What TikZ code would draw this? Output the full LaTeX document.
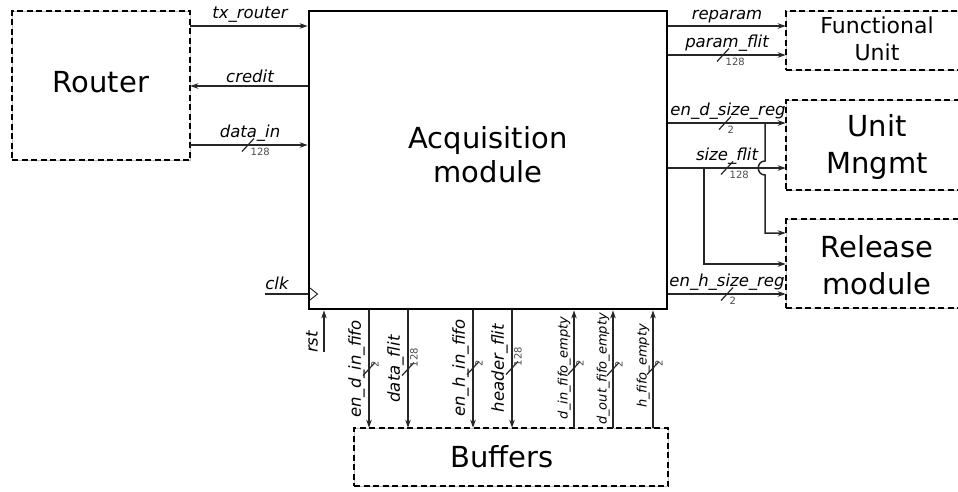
\documentclass[tikz,border=0pt]{standalone}
\usepackage{fontspec}
\setmainfont{DejaVu Sans}
\usetikzlibrary{arrows.meta}
\newcommand{\myfs}[2]{\fontsize{#1}{#2}\selectfont}
\newcommand{\hbus}[4]{%
  \draw[slash] (#1-6,#2+6.5) -- (#1+6,#2-6.5);
  \node[num, anchor=north west] (#4) at (#1+2,#2+2) {#3};}
\newcommand{\vbus}[4]{%
  \draw[slash] (#1-6,#2+6.5) -- (#1+6,#2-6.5);
  \node[num, rotate=90, anchor=north west] (#4) at (#1+1.5,#2-1) {#3};}
\begin{document}
\begin{tikzpicture}[x=1pt,y=-1pt,
  dbox/.style={draw=gray!50, line width=0.6pt, inner sep=0pt,
    postaction={draw=black, line width=2.6pt, dash pattern=on 6pt off 3.5pt}},
  modbox/.style={draw=black, line width=2.8pt, inner sep=0pt},
  sig/.style={draw=black!85, line width=1.5pt, -{Stealth[length=8pt,width=5.5pt]}},
  wire/.style={draw=black!85, line width=1.5pt},
  slash/.style={draw=black!85, line width=1.2pt},
  lab/.style={font=\myfs{16.5}{19}\itshape, inner sep=1pt},
  slab/.style={font=\myfs{13}{15}\itshape, inner sep=1pt},
  num/.style={font=\myfs{10}{11}, text=black!70, inner sep=0.5pt},
  big/.style={font=\myfs{29}{37}, align=center, inner sep=0pt}]
\useasboundingbox (0,0) rectangle (958,491);
\clip (0,0) rectangle (958,491);

% boxes
\node[dbox, minimum width=178pt, minimum height=149pt] (router) at (101,85.5) {};
\node[big] (routertxt) at (101,82.5) {Router};
\node[modbox, minimum width=358pt, minimum height=298pt] (acq) at (488,160) {};
\node[big, font=\myfs{29}{34}] (acqtxt) at (488,155) {Acquisition\\module};
\node[dbox, minimum width=189pt, minimum height=59pt] (fu) at (880.5,40.5) {};
\node[big, font=\myfs{22}{27}] (futxt) at (877,38.5) {Functional\\Unit};
\node[dbox, minimum width=189pt, minimum height=90pt] (um) at (880.5,145) {};
\node[big] (umtxt) at (877,146.5) {Unit\\Mngmt};
\node[dbox, minimum width=189pt, minimum height=89pt] (rm) at (880.5,263.5) {};
\node[big] (rmtxt) at (877,265.5) {Release\\module};
\node[dbox, minimum width=314pt, minimum height=58pt] (buf) at (511,457) {};
\node[big] (buftxt) at (502,457) {Buffers};

% router <-> acquisition
\draw[sig] (router.east |- 0,26) -- (acq.west |- 0,26);
\node[lab, anchor=south] (ltx) at (250,24) {tx\_router};
\draw[sig] (acq.west |- 0,86) -- (router.east |- 0,86);
\node[lab, anchor=south] (lcr) at (250,84) {credit};
\draw[sig] (router.east |- 0,145) -- (acq.west |- 0,145);
\node[lab, anchor=south] (ldi) at (250,143) {data\_in};
\hbus{248}{145}{128}{ndi}

% right side
\draw[sig] (acq.east |- 0,26) -- (fu.west |- 0,26);
\node[lab, anchor=south] (lrp) at (727,24) {reparam};
\draw[sig] (acq.east |- 0,55) -- (fu.west |- 0,55);
\node[lab, anchor=south] (lpf) at (727,53) {param\_flit};
\hbus{723}{55}{128}{npf}
\draw[sig] (acq.east |- 0,123) -- (um.west |- 0,123);
\node[lab, anchor=south] (ldsr) at (728,121) {en\_d\_size\_reg};
\hbus{725}{123}{2}{ndsr}
\draw[sig] (acq.east |- 0,168) -- (um.west |- 0,168);
\node[lab, anchor=south] (lsf) at (727,166) {size\_flit};
\hbus{727}{168}{128}{nsf}
\draw[sig] (acq.east |- 0,294) -- (rm.west |- 0,294);
\node[lab, anchor=south] (lhsr) at (727,292) {en\_h\_size\_reg};
\hbus{727}{294}{2}{nhsr}
\coordinate (j1) at (765,123);
\coordinate (j2) at (704,168);
\draw[sig] (j1) -- (765,161) .. controls (756,161) and (756,175) .. (765,175) -- (765,233) -- (rm.west |- 0,233);
\draw[sig] (j2) -- (704,264) -- (rm.west |- 0,264);

% clock and reset
\coordinate (clkin) at (265,294);
\draw[wire] (clkin) -- (acq.west |- clkin);
\node[lab, anchor=south] (lclk) at (277,291) {clk};
\draw[line width=1pt, black!85] (310,288) -- (317.5,294) -- (310,300);
\coordinate (rstin) at (324,352);
\draw[sig] (rstin) -- (acq.south -| rstin);
\node[lab, rotate=90] (lrst) at (312,342) {rst};

% bottom signals
\draw[sig] (acq.south -| 369,0) -- (buf.north -| 369,0);
\node[lab, rotate=90, anchor=south] (ledf) at (366,369) {en\_d\_in\_fifo};
\vbus{369}{369}{2}{nedf}
\draw[sig] (acq.south -| 408,0) -- (buf.north -| 408,0);
\node[lab, rotate=90, anchor=south] (ldf) at (405,369) {data\_flit};
\vbus{408}{369}{128}{ndf}
\draw[sig] (acq.south -| 473,0) -- (buf.north -| 473,0);
\node[lab, rotate=90, anchor=south] (lehf) at (470,368) {en\_h\_in\_fifo};
\vbus{473}{368}{2}{nehf}
\draw[sig] (acq.south -| 512,0) -- (buf.north -| 512,0);
\node[lab, rotate=90, anchor=south] (lhf) at (509,368) {header\_flit};
\vbus{512}{368}{128}{nhf}
\draw[sig] (buf.north -| 574,0) -- (acq.south -| 574,0);
\node[slab, rotate=90, anchor=south] (ldie) at (572,368) {d\_in\_fifo\_empty};
\vbus{574}{368}{2}{ndie}
\draw[sig] (buf.north -| 613,0) -- (acq.south -| 613,0);
\node[slab, rotate=90, anchor=south] (ldoe) at (611,369) {d\_out\_fifo\_empty};
\vbus{613}{369}{2}{ndoe}
\draw[sig] (buf.north -| 653,0) -- (acq.south -| 653,0);
\node[slab, rotate=90, anchor=south] (lhe) at (651,366) {h\_fifo\_empty};
\vbus{653}{368}{2}{nhe}
\end{tikzpicture}
\end{document}
